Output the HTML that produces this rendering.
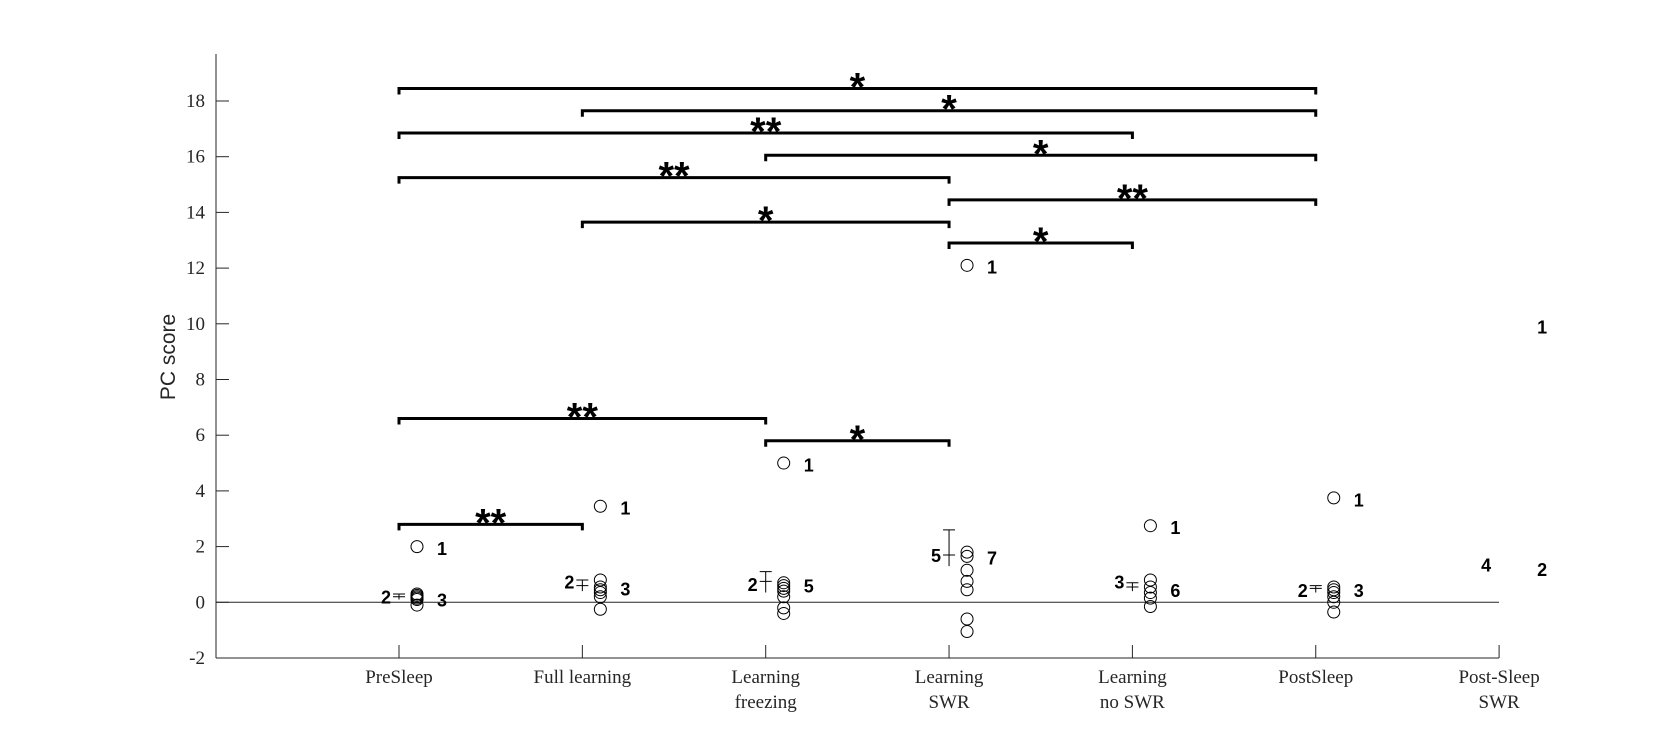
<!DOCTYPE html>
<html><head><meta charset="utf-8"><style>
html,body{margin:0;padding:0;background:#fff;}
svg{display:block;}
.tk{font-family:"Liberation Serif",serif;font-size:19px;fill:#262626;}
.cnt{font-family:"Liberation Sans",sans-serif;font-weight:bold;font-size:18px;fill:#000;}
.star{font-family:"Liberation Sans",sans-serif;font-weight:bold;font-size:40px;fill:#000;}
</style></head><body>
<svg id="chart" width="1658" height="737" viewBox="0 0 1658 737" xmlns="http://www.w3.org/2000/svg">
<g id="axes"></g>
<g id="brackets"></g>
<g id="marks"></g>
<text transform="translate(175,357) rotate(-90)" text-anchor="middle" font-family="Liberation Sans, sans-serif" font-size="21" fill="#262626">PC score</text>
</svg>
<script>
const categories = [["PreSleep"],["Full learning"],["Learning","freezing"],["Learning","SWR"],["Learning","no SWR"],["PostSleep"],["Post-Sleep","SWR"]];
const yTicks = [-2,0,2,4,6,8,10,12,14,16,18];
const clusterValues = [
 [0.3,0.25,0.2,0.15,0.1,-0.1],
 [0.8,0.55,0.45,0.35,0.2,-0.25],
 [0.7,0.6,0.5,0.4,0.2,-0.2,-0.4],
 [1.8,1.65,1.15,0.75,0.45,-0.6,-1.05],
 [0.8,0.55,0.35,0.15,-0.15],
 [0.55,0.45,0.35,0.2,0.0,-0.35],
 []
];
const outlierValues = [2.0,3.45,5.0,12.1,2.75,3.75,null];
const errMean = [0.2,0.6,0.75,1.7,0.55,0.5,null];
const errLow = [0.1,0.4,0.35,1.3,0.4,0.35,null];
const errHigh = [0.3,0.8,1.1,2.6,0.7,0.6,null];
const leftCounts = ["2","2","2","5","3","2","4"];
const leftCountY = [0.2,0.75,0.65,1.7,0.75,0.45,1.35];
const rightCounts = ["3","3","5","7","6","3","2"];
const rightCountY = [0.1,0.5,0.6,1.6,0.45,0.45,1.2];
const outlierCounts = ["1","1","1","1","1","1","1"];
const outlierCountY = [1.95,3.4,4.95,12.05,2.7,3.7,9.9];
const bracketFrom = [0,1,0,2,0,3,1,3,0,2,0];
const bracketTo   = [5,5,4,5,3,5,3,4,2,3,1];
const bracketY    = [18.45,17.65,16.85,16.05,15.25,14.45,13.65,12.9,6.6,5.8,2.8];
const bracketLabel= ["*","*","**","*","**","**","*","*","**","*","**"];

const NS="http://www.w3.org/2000/svg";
const X0=216, XR=1499, Y18=101, UNIT=27.85;
function xs(i){return 399+183.35*i;}
function ys(v){return Y18+(18-v)*UNIT;}
function mk(tag,attrs,parent,txt){const e=document.createElementNS(NS,tag);for(const k in attrs)e.setAttribute(k,attrs[k]);if(txt!==undefined)e.textContent=txt;parent.appendChild(e);return e;}
const axes=document.getElementById('axes'),br=document.getElementById('brackets'),mks=document.getElementById('marks');
let e;
e=mk('line',{x1:X0,y1:54,x2:X0,y2:ys(-2),stroke:'#262626','stroke-width':1},axes);


e=mk('line',{x1:X0,y1:ys(-2),x2:XR,y2:ys(-2),stroke:'#262626','stroke-width':1},axes);


e=mk('line',{x1:X0,y1:ys(0),x2:XR,y2:ys(0),stroke:'#262626','stroke-width':1},axes);


yTicks.forEach(t=>{
 mk('line',{x1:X0,y1:ys(t),x2:X0+13,y2:ys(t),stroke:'#262626'},axes);
 e=mk('text',{x:X0-11,y:ys(t)+6,'text-anchor':'end',class:'tk'},axes,String(t));
 
 
});
categories.forEach((c,i)=>{
 mk('line',{x1:xs(i),y1:ys(-2),x2:xs(i),y2:ys(-2)-13,stroke:'#262626'},axes);
 c.forEach((ln,j)=>{
  e=mk('text',{x:xs(i),y:683+j*25,'text-anchor':'middle',class:'tk'},axes,ln);
  
  
 });
});
bracketFrom.forEach((f,k)=>{
 const y=ys(bracketY[k]),x1=xs(f),x2=xs(bracketTo[k]);
 e=mk('path',{d:`M${x1},${y+6}V${y}H${x2}V${y+6}`,fill:'none',stroke:'#000','stroke-width':3},br);
 
 
 e=mk('text',{x:(x1+x2)/2,y:y+12,'text-anchor':'middle',class:'star'},br,bracketLabel[k]);
 
 
});
categories.forEach((c,i)=>{
 const px=xs(i)+18;
 clusterValues[i].forEach(v=>{
  e=mk('circle',{cx:px,cy:ys(v),r:6,fill:'none',stroke:'#000','stroke-width':1},mks);
  
  
 });
 if(outlierValues[i]!==null){
  e=mk('circle',{cx:px,cy:ys(outlierValues[i]),r:6,fill:'none',stroke:'#000','stroke-width':1},mks);
  
  
 }
 if(errMean[i]!==null){
  const x=xs(i);
  e=mk('path',{d:`M${x},${ys(errLow[i])}V${ys(errHigh[i])}M${x-6},${ys(errHigh[i])}H${x+6}M${x-6},${ys(errMean[i])}H${x+6}`,fill:'none',stroke:'#000','stroke-width':1},mks);
  
  
 }
 e=mk('text',{x:xs(i)-8,y:ys(leftCountY[i])+7,'text-anchor':'end',class:'cnt'},mks,leftCounts[i]);
 
 
 e=mk('text',{x:xs(i)+38,y:ys(rightCountY[i])+7,class:'cnt'},mks,rightCounts[i]);
 
 
 e=mk('text',{x:xs(i)+38,y:ys(outlierCountY[i])+7,class:'cnt'},mks,outlierCounts[i]);
 
 
});
</script>
</body></html>
